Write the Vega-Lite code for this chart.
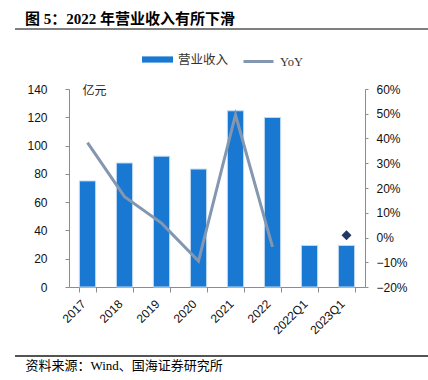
{
  "$schema": "https://vega.github.io/schema/vega-lite/v6.json",
  "width": 296,
  "height": 198,
  "autosize": "none",
  "padding": {"left": 69, "top": 89, "right": 63, "bottom": 93},
  "background": "white",
  "title": {
    "text": "图 5：2022 年营业收入有所下滑",
    "anchor": "start",
    "frame": "group",
    "dx": -44,
    "offset": 1,
    "font": "Liberation Serif, Noto Sans CJK SC",
    "fontSize": 15,
    "fontWeight": "bold",
    "color": "#000000"
  },
  "config": {
    "view": {"stroke": null},
    "axis": {
      "labelFont": "Liberation Sans",
      "labelFontSize": 12,
      "labelColor": "#111111",
      "domainColor": "#8c8c8c",
      "tickColor": "#8c8c8c",
      "grid": false,
      "labelOverlap": false
    },
    "legend": {
      "labelFont": "Liberation Serif, Noto Sans CJK SC",
      "labelFontSize": 12.5,
      "labelColor": "#333333",
      "padding": 0
    }
  },
  "data": {
    "values": [
      {"cat": "2017", "rev": 75.0, "yoy": 0.383},
      {"cat": "2018", "rev": 87.7, "yoy": 0.165},
      {"cat": "2019", "rev": 92.5, "yoy": 0.058},
      {"cat": "2020", "rev": 83.4, "yoy": -0.095},
      {"cat": "2021", "rev": 124.6, "yoy": 0.496},
      {"cat": "2022", "rev": 119.9, "yoy": -0.038},
      {"cat": "2022Q1", "rev": 29.4, "yoy": null},
      {"cat": "2023Q1", "rev": 29.4, "yoy": 0.009}
    ]
  },
  "resolve": {"scale": {"y": "independent"}},
  "layer": [
    {
      "mark": {"type": "bar", "stroke": "#C5DCF2", "strokeWidth": 1},
      "encoding": {
        "x": {
          "field": "cat",
          "type": "nominal",
          "sort": null,
          "scale": {"paddingInner": 0.56},
          "axis": {
            "labelAngle": -45,
            "tickSize": 5,
            "tickBand": "extent",
            "labelPadding": 6,
            "labelOffset": -8,
            "labelOverlap": false,
            "title": "资料来源：Wind、国海证券研究所",
            "titleX": -44,
            "titleY": 78,
            "titleAlign": "left",
            "titleBaseline": "middle",
            "titleFont": "Liberation Serif, Noto Sans CJK SC",
            "titleFontSize": 13,
            "titleFontWeight": "normal",
            "titleColor": "#000000"
          }
        },
        "y": {
          "field": "rev",
          "type": "quantitative",
          "scale": {"domain": [0, 140]},
          "axis": {
            "orient": "left",
            "values": [0, 20, 40, 60, 80, 100, 120, 140],
            "tickSize": 4,
            "labelPadding": 18,
            "labelOverlap": false,
            "title": "亿元",
            "titleAngle": 0,
            "titleX": 13,
            "titleY": 1,
            "titleAlign": "left",
            "titleBaseline": "middle",
            "titleFont": "Liberation Serif, Noto Sans CJK SC",
            "titleFontSize": 12,
            "titleFontWeight": "normal",
            "titleColor": "#222222"
          }
        },
        "fill": {
          "datum": "营业收入",
          "scale": {"domain": ["营业收入"], "range": ["#1878D2"]},
          "legend": {
            "title": null,
            "orient": "none",
            "legendX": 73,
            "legendY": -45,
            "symbolType": "M-1,-0.2H1V0.2H-1Z",
            "symbolSize": 961,
            "symbolStrokeWidth": 0,
            "labelOffset": 5
          }
        }
      }
    },
    {
      "layer": [
        {
          "transform": [{"filter": "datum.cat != '2023Q1' && datum.yoy != null"}],
          "mark": {"type": "line", "strokeWidth": 3},
          "encoding": {
            "x": {"field": "cat", "type": "nominal", "sort": null},
            "y": {
              "field": "yoy",
              "type": "quantitative",
              "scale": {"domain": [-0.2, 0.6]},
              "axis": {
                "orient": "right",
                "values": [-0.2, -0.1, 0, 0.1, 0.2, 0.3, 0.4, 0.5, 0.6],
                "format": ".0%",
                "tickSize": 3,
                "labelPadding": 8,
                "labelOverlap": false,
                "title": null
              }
            },
            "stroke": {
              "datum": "YoY",
              "scale": {"domain": ["YoY"], "range": ["#8497B0"]},
              "legend": {
                "title": null,
                "orient": "none",
                "legendX": 173,
                "legendY": -44,
                "symbolType": "stroke",
                "symbolSize": 900,
                "symbolStrokeWidth": 3,
                "labelOffset": 5
              }
            }
          }
        },
        {
          "transform": [{"filter": "datum.cat == '2023Q1'"}],
          "mark": {"type": "point", "shape": "diamond", "filled": true, "size": 100, "color": "#203864", "opacity": 1},
          "encoding": {
            "x": {"field": "cat", "type": "nominal", "sort": null},
            "y": {
              "field": "yoy",
              "type": "quantitative",
              "scale": {"domain": [-0.2, 0.6]},
              "axis": {
                "orient": "right",
                "values": [-0.2, -0.1, 0, 0.1, 0.2, 0.3, 0.4, 0.5, 0.6],
                "format": ".0%",
                "tickSize": 3,
                "labelPadding": 8,
                "labelOverlap": false,
                "title": null
              }
            }
          }
        }
      ]
    },
    {
      "mark": {"type": "rule", "color": "#7f7f7f", "strokeWidth": 1.5},
      "encoding": {
        "x": {"value": -54},
        "x2": {"value": 359},
        "y": {"value": -60}
      }
    },
    {
      "mark": {"type": "rule", "color": "#555555", "strokeWidth": 1.5},
      "encoding": {
        "x": {"value": -54},
        "x2": {"value": 359},
        "y": {"value": 267}
      }
    }
  ]
}
